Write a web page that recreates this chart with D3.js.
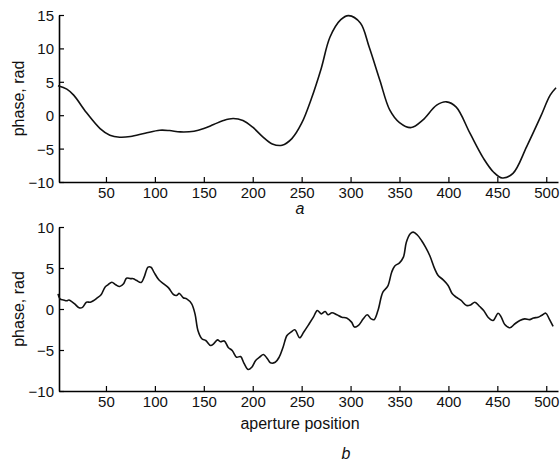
<!DOCTYPE html>
<html>
<head>
<meta charset="utf-8">
<script src="https://cdn.jsdelivr.net/npm/d3@7"></script>
<style>
  body { margin: 0; background: #fff; }
  svg { display: block; font-family: "Liberation Sans", Arial, sans-serif; }
</style>
</head>
<body>
<div id="viz"></div>
<script>
const width = 560;
const height = 462;

// panel a: smooth phase curve
const topPos   = [1, 10, 17, 30, 44, 54, 64, 75, 90, 105, 115, 126, 140, 150, 160, 170, 180, 190, 200, 210, 220, 230, 240, 250, 260, 270, 279, 290, 298, 310, 319, 330, 340, 350, 362, 374, 388, 398, 408, 422, 436, 446, 455, 466, 480, 494, 504, 510];
const topPhase = [4.4, 3.9, 3.0, 0.4, -2.0, -3.0, -3.3, -3.2, -2.7, -2.25, -2.3, -2.5, -2.4, -2.0, -1.4, -0.8, -0.5, -0.8, -1.8, -3.2, -4.3, -4.5, -3.5, -1.2, 2.5, 7.0, 11.7, 14.3, 14.9, 13.8, 10.2, 5.2, 0.8, -1.1, -1.85, -0.7, 1.5, 2.0, 1.2, -2.7, -6.5, -8.5, -9.4, -8.7, -4.7, -0.3, 3.0, 4.1];

// panel b: noisy phase curve
const bottomPos   = [1, 3, 6.5, 10, 12, 15, 18, 22.5, 26, 30, 34, 37, 40.5, 45, 49, 52, 56, 60, 64, 68, 71, 75, 78, 81, 86, 89, 93, 96, 99, 104, 109, 114, 119, 122, 125, 129, 132.5, 137.6, 141, 144, 148, 152, 157, 160, 164, 167, 171, 175, 179, 183.5, 187.6, 191, 195.4, 199, 203, 207, 211, 215, 218, 223, 227, 231, 235, 239, 243, 248, 252, 257, 262, 266, 270, 274, 277, 281, 286, 291, 296, 301, 304, 308, 313, 317, 321, 324, 328, 333, 338, 342, 345, 350, 354, 357, 361, 364, 368, 372.5, 376.6, 381, 386, 389.5, 394.6, 399.7, 404, 408, 413, 418.5, 422.6, 427, 432, 436, 440.5, 445.6, 450.8, 454, 457.6, 462.7, 468, 473, 478, 483, 487, 491.6, 495, 499.5, 503, 507];
const bottomPhase = [1.85, 1.24, 1.1, 1.0, 1.1, 0.9, 0.63, 0.15, 0.2, 0.83, 0.83, 1.0, 1.3, 1.73, 2.66, 2.95, 3.27, 2.95, 2.74, 3.07, 3.76, 3.7, 3.7, 3.5, 3.23, 3.88, 5.1, 5.1, 4.5, 3.56, 3.07, 2.58, 1.77, 1.65, 1.9, 1.37, 1.24, 0.63, -0.6, -2.62, -3.63, -3.84, -4.45, -4.25, -3.76, -4.0, -3.9, -4.7, -5.06, -5.88, -5.8, -6.6, -7.38, -7.1, -6.28, -5.88, -5.55, -6.07, -6.56, -6.5, -5.88, -4.66, -3.23, -2.83, -2.54, -3.51, -2.83, -1.93, -1.0, -0.18, -0.59, -0.3, -0.7, -0.46, -0.71, -1.0, -1.1, -1.6, -2.2, -2.0, -1.2, -0.71, -1.2, -1.3, -0.18, 2.05, 2.78, 4.49, 5.22, 5.63, 6.32, 8.15, 9.17, 9.37, 9.05, 8.35, 7.54, 6.5, 4.9, 4.09, 3.56, 2.87, 1.85, 1.44, 1.04, 0.43, 0.5, 0.83, 0.3, -0.18, -1.0, -1.4, -0.51, -1.0, -1.9, -2.29, -1.8, -1.4, -1.2, -1.3, -1.1, -1.0, -0.8, -0.51, -1.2, -2.13];

const xTicks = [50, 100, 150, 200, 250, 300, 350, 400, 450, 500];
const topYTicks = [-10, -5, 0, 5, 10, 15];
const bottomYTicks = [-10, -5, 0, 5, 10];

const svg = d3.select('#viz')
    .append('svg')
    .attr('width', width)
    .attr('height', height);

// shared x scale, both panels use the same aperture positions
const x = d3.scaleLinear().domain([2, 512]).range([59, 558]);

const drawPanel = (pos, phase, yDomain, yRange, yTicks, curve) => {
    const y = d3.scaleLinear().domain(yDomain).range(yRange);
    const g = svg.append('g');

    // x axis, ticks point inward
    const xAxis = g.append('g')
        .attr('transform', `translate(0, ${yRange[0]})`)
        .call(d3.axisBottom(x).tickValues(xTicks).tickSizeInner(-5).tickSizeOuter(0).tickPadding(5));

    const yAxis = g.append('g')
        .attr('transform', `translate(${x.range()[0]}, 0)`)
        .call(d3.axisLeft(y).tickValues(yTicks).tickSizeInner(-5).tickSizeOuter(0).tickPadding(5));

    [xAxis, yAxis].forEach(ax => {
        ax.select('.domain').attr('stroke', '#000').attr('stroke-width', 1.6);
        ax.selectAll('.tick line').attr('stroke', '#000').attr('stroke-width', 1.2);
        ax.selectAll('.tick text')
            .attr('fill', '#111')
            .style('font-size', '15px');
    });
    xAxis.selectAll('.tick text').attr('dy', '0.75em');
    yAxis.selectAll('.tick text').attr('dy', '0.36em');

    const line = d3.line()
        .x((d, i) => x(pos[i]))
        .y(d => y(d))
        .curve(curve);

    g.append('path')
        .attr('d', line(phase))
        .attr('fill', 'none')
        .attr('stroke', '#111')
        .attr('stroke-width', 1.6)
        .attr('stroke-linejoin', 'round');

    // y axis title
    g.append('text')
        .attr('transform', `translate(24, ${(yRange[0] + yRange[1]) / 2}) rotate(-90)`)
        .style('text-anchor', 'middle')
        .style('font-size', '16px')
        .attr('fill', '#111')
        .text('phase, rad');
};

drawPanel(topPos, topPhase, [-10, 15], [182, 15], topYTicks, d3.curveCatmullRom);
drawPanel(bottomPos, bottomPhase, [-10, 10], [391, 227], bottomYTicks, d3.curveCatmullRom);

svg.append('text')
    .attr('x', 300).attr('y', 214)
    .style('text-anchor', 'middle')
    .style('font-size', '16px')
    .style('font-style', 'italic')
    .attr('fill', '#111')
    .text('a');

svg.append('text')
    .attr('x', 300).attr('y', 429)
    .style('text-anchor', 'middle')
    .style('font-size', '16px')
    .attr('fill', '#111')
    .text('aperture position');

svg.append('text')
    .attr('x', 346).attr('y', 459)
    .style('text-anchor', 'middle')
    .style('font-size', '16px')
    .style('font-style', 'italic')
    .attr('fill', '#111')
    .text('b');
</script>
</body>
</html>
